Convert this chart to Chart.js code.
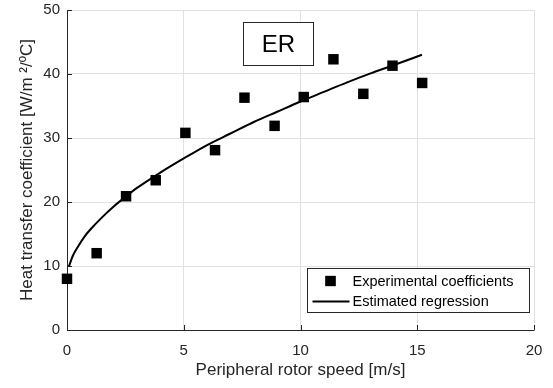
<!DOCTYPE html>
<html>
<head>
<meta charset="utf-8">
<script src="https://cdn.jsdelivr.net/npm/chart.js@4/dist/chart.umd.min.js"></script>
<style>
  html, body { margin: 0; padding: 0; background: #fff; }
  #wrap { width: 553px; height: 388px; }
</style>
</head>
<body>
<div id="wrap"><canvas id="chart" width="553" height="388"></canvas></div>
<script>
// Experimental points (peripheral rotor speed m/s -> heat transfer coefficient)
const speedValues = [0, 1.27, 2.53, 3.80, 5.07, 6.34, 7.60, 8.89, 10.14, 11.41, 12.69, 13.94, 15.21];
const coeffValues = [8.0, 12.0, 20.9, 23.4, 30.8, 28.1, 36.3, 31.9, 36.4, 42.3, 36.9, 41.3, 38.6];

// Regression curve
const fitSpeed = [0.08, 0.25, 0.5, 0.75, 1, 1.5, 2, 2.5, 3, 4, 5, 6, 7, 8, 9, 10, 11, 12, 13, 14, 15.2];
const fitCoeff = [9.9, 11.6, 13.2, 14.6, 15.7, 17.6, 19.3, 20.8, 22.2, 24.6, 26.8, 28.9, 30.7, 32.5, 34.1, 35.7, 37.2, 38.7, 40.1, 41.4, 43.0];

const xTicks = [0, 5, 10, 15, 20];
const yTicks = [0, 10, 20, 30, 40, 50];

const seriesLabels = ['Experimental coefficients', 'Estimated regression'];
const boxLabel = 'ER';

const AXIS_COLOR = '#262626';
const FONT = '"Liberation Sans", Arial, sans-serif';

// Axis lines with inward ticks (drawn under the markers)
const framePlugin = {
    id: 'frame',
    beforeDatasetsDraw(chart) {
        const { ctx, chartArea: a, scales: { x, y } } = chart;
        ctx.save();
        ctx.strokeStyle = AXIS_COLOR;
        ctx.lineWidth = 1;
        ctx.beginPath();
        ctx.moveTo(Math.round(a.left) + 0.5, a.top);
        ctx.lineTo(Math.round(a.left) + 0.5, Math.round(a.bottom) + 0.5);
        ctx.lineTo(a.right + 0.5, Math.round(a.bottom) + 0.5);
        xTicks.forEach(v => {
            const px = Math.round(x.getPixelForValue(v)) + 0.5;
            ctx.moveTo(px, a.bottom);
            ctx.lineTo(px, a.bottom - 5);
        });
        yTicks.forEach(v => {
            const py = Math.round(y.getPixelForValue(v)) + 0.5;
            ctx.moveTo(a.left, py);
            ctx.lineTo(a.left + 5, py);
        });
        ctx.stroke();
        ctx.restore();
    }
};

// "ER" label box and the legend inside the plot
const boxesPlugin = {
    id: 'boxes',
    afterDatasetsDraw(chart) {
        const { ctx, chartArea: a } = chart;
        ctx.save();

        // ER box
        const bx = a.left + 176.5, by = a.top + 12.5, bw = 70, bh = 43;
        ctx.fillStyle = '#fff';
        ctx.fillRect(bx, by, bw, bh);
        ctx.strokeStyle = AXIS_COLOR;
        ctx.lineWidth = 1;
        ctx.strokeRect(bx, by, bw, bh);
        ctx.fillStyle = '#000';
        ctx.font = '24px ' + FONT;
        ctx.textAlign = 'center';
        ctx.textBaseline = 'middle';
        ctx.fillText(boxLabel, bx + bw / 2, by + bh / 2 + 1);

        // legend
        const lx = a.left + 240.5, ly = a.top + 258.5, lw = 222, lh = 44;
        ctx.fillStyle = '#fff';
        ctx.fillRect(lx, ly, lw, lh);
        ctx.strokeRect(lx, ly, lw, lh);
        ctx.font = '14.5px ' + FONT;
        ctx.textAlign = 'left';
        ctx.fillStyle = '#000';
        const ds = chart.data.datasets;
        // marker row
        Chart.helpers.drawPoint(ctx, {
            pointStyle: 'rect', radius: 7.2, borderWidth: 0, rotation: 0
        }, lx + 23, ly + 12.5);
        ctx.fillStyle = '#000';
        ctx.fill();
        ctx.fillText(ds[0].label, lx + 45, ly + 13);
        // line row
        ctx.beginPath();
        ctx.lineWidth = 2;
        ctx.strokeStyle = '#000';
        ctx.moveTo(lx + 5, ly + 33);
        ctx.lineTo(lx + 42, ly + 33);
        ctx.stroke();
        ctx.fillText(ds[1].label, lx + 45, ly + 33);

        ctx.restore();
    }
};

const ctx = document.getElementById('chart').getContext('2d');
new Chart(ctx, {
    type: 'scatter',
    data: {
        datasets: [
            {
                label: seriesLabels[0],
                data: speedValues.map((v, i) => ({ x: v, y: coeffValues[i] })),
                pointStyle: 'rect',
                pointRadius: 7.4,
                pointBorderWidth: 0,
                backgroundColor: '#000',
                borderColor: '#000',
                showLine: false,
                clip: false,
                order: 1
            },
            {
                label: seriesLabels[1],
                data: fitSpeed.map((v, i) => ({ x: v, y: fitCoeff[i] })),
                showLine: true,
                pointRadius: 0,
                borderColor: '#000',
                borderWidth: 2,
                cubicInterpolationMode: 'monotone',
                clip: false,
                order: 2
            }
        ]
    },
    options: {
        responsive: false,
        animation: false,
        layout: { padding: { top: 10, right: 19, left: 0, bottom: 0 } },
        plugins: {
            legend: { display: false },
            tooltip: { enabled: false }
        },
        scales: {
            x: {
                type: 'linear',
                min: 0,
                max: 20,
                afterFit: scale => {
                    scale.height = 58;
                    scale.paddingLeft = 0;
                    scale.paddingRight = 0;
                },
                afterBuildTicks: scale => { scale.ticks = xTicks.map(v => ({ value: v })); },
                grid: { color: '#e1e1e1', drawTicks: false },
                border: { display: false },
                ticks: {
                    padding: 12,
                    color: AXIS_COLOR,
                    font: { family: FONT, size: 15 },
                    maxRotation: 0
                },
                title: {
                    display: true,
                    text: 'Peripheral rotor speed [m/s]',
                    color: AXIS_COLOR,
                    font: { family: FONT, size: 17 },
                    padding: { top: 0, bottom: 7 }
                }
            },
            y: {
                type: 'linear',
                min: 0,
                max: 50,
                afterFit: scale => {
                    scale.width = 67;
                    scale.paddingTop = 0;
                    scale.paddingBottom = 0;
                },
                afterBuildTicks: scale => { scale.ticks = yTicks.map(v => ({ value: v })); },
                grid: { color: '#e1e1e1', drawTicks: false },
                border: { display: false },
                ticks: {
                    padding: 7,
                    color: AXIS_COLOR,
                    font: { family: FONT, size: 15 }
                },
                title: {
                    display: true,
                    text: 'Heat transfer coefficient [W/m \u00B2/\u00BAC]',
                    color: AXIS_COLOR,
                    font: { family: FONT, size: 17 },
                    padding: { top: 17, bottom: 0 }
                }
            }
        }
    },
    plugins: [framePlugin, boxesPlugin]
});
</script>
</body>
</html>
